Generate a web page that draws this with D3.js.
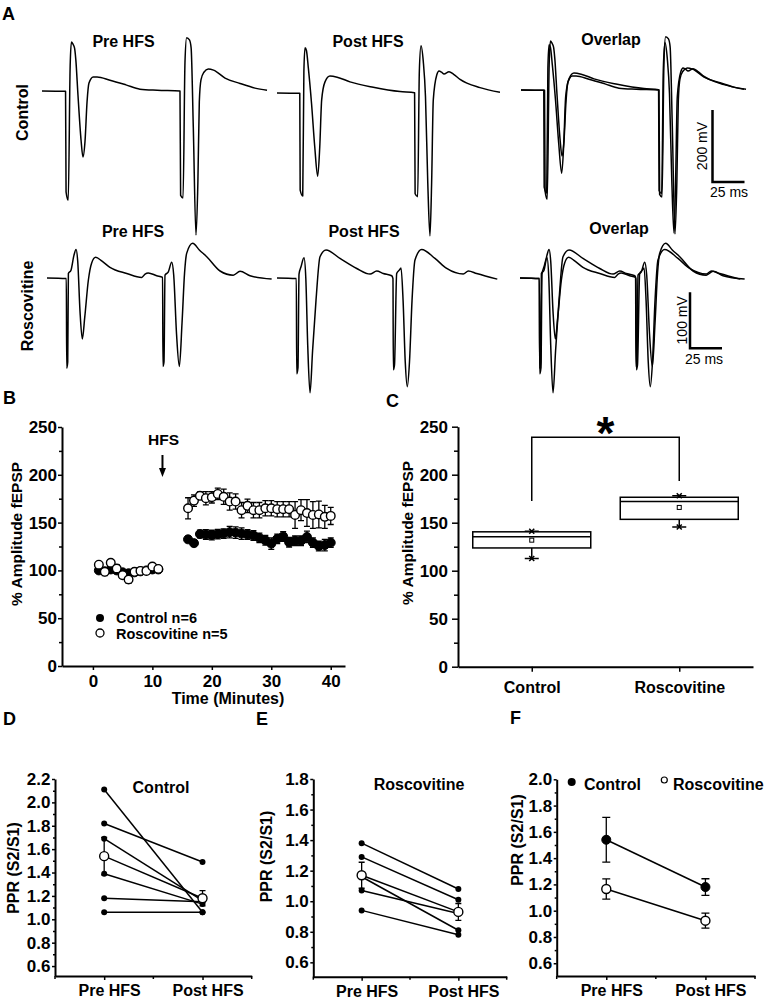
<!DOCTYPE html>
<html lang="en">
<head>
<meta charset="utf-8">
<title>Roscovitine and HFS</title>
<script src="https://cdn.jsdelivr.net/npm/d3@7"></script>
<style>
  body { margin: 0; background: #fff; }
  svg { display: block; }
  .trace { fill: none; stroke: #000; stroke-width: 1.5; stroke-linejoin: round; }
  .link { fill: none; stroke: #000; stroke-width: 1.5; }
  .err { fill: none; stroke: #000; stroke-width: 1.3; }
</style>
</head>
<body>
<script>

// ---- Panel A: field potential traces, [ms, mV] ----
var ctrlPreTrace = [[0,0],[18.4,-1],[18.8,-280],[20.5,-303],[22.0,70],[23.0,136],[24.2,130],[25.4,120],[26.4,88],[28.1,-11],[30.5,-136],[32.0,-183],[33.6,-140],[35.2,-30],[36.7,22],[40,39],[43.0,39],[53.1,30],[65.6,17],[76.5,5],[90,2],[107.8,0],[108.3,-290],[110.2,-297],[111.7,80],[113.0,148],[115.2,142],[116.5,120],[118.2,-100],[120.3,-400],[121.8,-250],[122.9,-30],[124.2,31],[126.5,52],[129.9,61],[134,58],[143,36],[154.7,21],[166.4,8],[175.8,2]];
var ctrlPostTrace = [[0,0],[17.8,-1],[18.1,-270],[20.1,-286],[21.0,60],[21.9,126],[23.0,118],[24.5,69],[27,-30],[29.5,-150],[31.8,-231],[33.4,-150],[34.9,-19],[37.5,31],[41.4,47],[47,44],[57,31],[75.2,16],[96.1,4],[107.5,1],[107.9,-280],[109.9,-288],[111.2,60],[112.5,131],[114.3,87],[116,-10],[117.8,-250],[119.5,-397],[120.8,-250],[122.1,-19],[124.8,50],[126.6,61],[128.5,58],[130.5,53],[134.4,59],[138,52],[143,38],[158.6,15],[174.2,2]];
var roscPreTrace = [[0,0],[15.1,-1],[15.4,-161],[16.2,-150],[16.7,8],[18.75,14],[21,40],[22.7,51],[24,30],[25.8,-60],[27.6,-109],[29.5,-70],[32.3,-4],[34.9,27],[38,37],[43,30],[49.2,19],[62.3,8],[74,1],[76.6,7],[79.1,9],[85.7,4],[90.3,1],[90.6,-158],[91.4,-150],[92.2,5],[94.8,11],[97.4,28],[99,5],[101.2,-100],[103.4,-158],[105.5,-80],[107.5,10],[109.1,44],[113.8,62],[119,50],[124.8,38],[135.2,12.5],[145.5,5],[150.8,12],[158.6,4],[175.5,-2]];
var roscPostTrace = [[0,0],[15.1,-1],[15.4,-171],[16.4,-160],[17.2,7],[18.75,20],[21.1,36],[22.5,0],[24,-120],[25.8,-205],[27.8,-130],[30.5,-39],[33.6,38],[38.3,50],[49.2,35],[62.3,17],[72.7,7],[77.9,12.5],[83,8],[89.6,4],[90.6,-1],[90.9,-164],[91.8,-155],[93.5,8],[95.5,14],[96.9,18],[98.5,-40],[100.2,-150],[101.8,-194],[103.5,-150],[105.5,-40],[107.8,32],[113,51],[123.4,35],[132.6,17],[145.5,7],[149.5,12.5],[156,8],[172.1,-2]];
var scaleBarMv = [200, 100];
var scaleBarMs = 25;

// ---- Panel B: time course ----
var preTimes = [1, 2, 3, 4, 5, 6, 7, 8, 9, 10, 11];
var postTimes = [16, 17, 18, 19, 20, 21, 22, 23, 24, 25, 26, 27, 28, 29, 30, 31, 32, 33, 34, 35, 36, 37, 38, 39, 40];
var ctrlPreAmp = [100, 99, 101, 100, 98, 97, 98, 99, 100, 101, 101];
var ctrlPreErr = [3, 3, 2, 3, 2, 3, 2, 2, 2, 2, 2];
var roscPreAmp = [106, 98.5, 108, 102, 95, 90.5, 98.5, 99.5, 99.5, 104, 101.5];
var roscPreErr = [3, 4, 3, 4, 3, 4, 3, 2, 2, 3, 2];
var ctrlPostAmp = [132.5, 128.5, 138, 137.5, 137, 138, 138.5, 140, 139.5, 138.5, 137.5, 136.5, 134, 131.5, 128, 133, 135.5, 129.5, 131, 131, 135, 129, 125.5, 126.5, 129];
var ctrlPostErr = [3, 3, 4, 5, 5, 5, 5, 6, 6, 6, 5, 5, 5, 5, 6, 5, 5, 5, 5, 5, 6, 5, 5, 6, 5];
var roscPostAmp = [165, 173, 178, 175.5, 176.5, 180, 177, 172, 172, 163, 167.5, 163, 163, 165, 165, 164, 164, 164, 158, 163, 160, 158, 158.5, 156, 157];
var roscPostErr = [11, 6, 4, 7, 6, 6, 8, 9, 8, 8, 7, 8, 8, 8, 8, 8, 8, 8, 14, 11, 14, 14, 14, 12, 9];
var hfsTime = 11.7;
var timeTicks = [0, 10, 20, 30, 40];
var ampTicks = [0, 50, 100, 150, 200, 250];
var ampMinorTicks = [25, 75, 125, 175, 225];

// ---- Panel C: box summary ----
var boxGroups = ["Control", "Roscovitine"];
var boxMin = [112.7, 145.6];
var boxQ1 = [123.7, 153.5];
var boxMedian = [135.3, 172];
var boxQ3 = [140.5, 176.5];
var boxMax = [141, 178];
var boxMean = [131.8, 165.9];
var sigLegs = [172.6, 193.5];
var sigTop = 239;

// ---- Panels D-F: paired pulse ratio ----
var phases = ["Pre HFS", "Post HFS"];
var dPre = [2.11, 1.82, 1.69, 1.39, 1.18, 1.06];
var dPost = [1.06, 1.49, 1.16, 1.13, 1.15, 1.06];
var dMean = [1.54, 1.18];
var dSem = [0.16, 0.065];
var ePre = [1.38, 1.29, 1.16, 1.07, 0.94];
var ePost = [1.08, 1.01, 0.81, 0.92, 0.78];
var eMean = [1.17, 0.93];
var eSem = [0.085, 0.055];
var fCtrlMean = [1.54, 1.18];
var fCtrlSem = [0.17, 0.063];
var fRoscMean = [1.165, 0.924];
var fRoscSem = [0.077, 0.057];
var pprTicksD = [0.6, 0.8, 1.0, 1.2, 1.4, 1.6, 1.8, 2.0, 2.2];
var pprMinorD = [0.7, 0.9, 1.1, 1.3, 1.5, 1.7, 1.9, 2.1];
var pprTicksE = [0.6, 0.8, 1.0, 1.2, 1.4, 1.6, 1.8];
var pprMinorE = [0.7, 0.9, 1.1, 1.3, 1.5, 1.7];
var pprTicksF = [0.6, 0.8, 1.0, 1.2, 1.4, 1.6, 1.8, 2.0];
var pprMinorF = [0.7, 0.9, 1.1, 1.3, 1.5, 1.7, 1.9];


var w = 765, h = 1004;
var font = '"Liberation Sans", Arial, Helvetica, sans-serif';

var svg = d3.select("body").append("svg")
  .attr("width", w)
  .attr("height", h)
  .attr("font-family", font);

svg.append("rect").attr("width", w).attr("height", h).attr("fill", "#fff");

// plain text helper
function text(g, str, x, y, size, opt) {
  opt = opt || {};
  var t = g.append("text")
    .text(str)
    .attr("font-size", size)
    .attr("font-weight", opt.normal ? "normal" : "bold")
    .attr("text-anchor", opt.anchor || "start")
    .attr("fill", "#000");
  if (opt.rotate) {
    t.attr("transform", "translate(" + x + "," + y + ") rotate(-90)").attr("dy", "0.35em");
  } else {
    t.attr("x", x).attr("y", y);
  }
  return t;
}

function styleAxis(g, size) {
  g.attr("font-family", font).attr("font-size", size).attr("font-weight", "bold");
  g.select(".domain").attr("stroke-width", 2);
  g.selectAll(".tick line").attr("stroke-width", 1.5);
  g.selectAll(".tick text").attr("fill", "#000");
}

// vertical error bars with caps
function errBars(g, xs, ys, xv, yv, ev, cap) {
  g.selectAll(null)
    .data(yv)
    .enter()
    .append("path")
    .attr("class", "err")
    .attr("d", function (d, i) {
      var x = xs(xv[i]), y1 = ys(d - ev[i]), y2 = ys(d + ev[i]);
      return "M" + x + "," + y1 + "V" + y2 +
        "M" + (x - cap) + "," + y1 + "H" + (x + cap) +
        "M" + (x - cap) + "," + y2 + "H" + (x + cap);
    });
}

function dots(g, xs, ys, xv, yv, r, open) {
  g.selectAll(null)
    .data(yv)
    .enter()
    .append("circle")
    .attr("cx", function (d, i) { return xs(xv[i]); })
    .attr("cy", function (d) { return ys(d); })
    .attr("r", r)
    .attr("fill", open ? "#fff" : "#000")
    .attr("stroke", "#000")
    .attr("stroke-width", open ? 1.4 : 1);
}

// ================= Panel A =================
text(svg, "A", 2, 19.5, 18);

var msPx = 1.28;
var traceRows = [
  { name: "Control", nameX: 22.5, nameY: 112.5, ky: 0.36, bar: scaleBarMv[0],
    barX: 712.5, barY: 182, mvX: 702, ms: [729, 197],
    panels: [
      { title: "Pre HFS", tx: 123.5, ty: 47, x0: 42, base: 91, traces: [ctrlPreTrace] },
      { title: "Post HFS", tx: 368, ty: 47, x0: 277, base: 93, traces: [ctrlPostTrace] },
      { title: "Overlap", tx: 611, ty: 45, x0: 521, base: 90, traces: [ctrlPreTrace, ctrlPostTrace] }
    ] },
  { name: "Roscovitine", nameX: 27, nameY: 306, ky: 0.56, bar: scaleBarMv[1],
    barX: 690, barY: 348.3, mvX: 682.5, ms: [704, 363.5],
    panels: [
      { title: "Pre HFS", tx: 133, ty: 237, x0: 47, base: 278, traces: [roscPreTrace] },
      { title: "Post HFS", tx: 364, ty: 237, x0: 277, base: 278, traces: [roscPostTrace] },
      { title: "Overlap", tx: 619, ty: 234, x0: 520, base: 278, traces: [roscPreTrace, roscPostTrace] }
    ] }
];

traceRows.forEach(function (row) {
  text(svg, row.name, row.nameX, row.nameY, 16, { rotate: true, anchor: "middle" });

  row.panels.forEach(function (p) {
    text(svg, p.title, p.tx, p.ty, 16, { anchor: "middle" });

    var xs = d3.scaleLinear().domain([0, 100]).range([p.x0, p.x0 + 100 * msPx]);
    var ys = d3.scaleLinear().domain([0, 100]).range([p.base, p.base - 100 * row.ky]);

    var line = d3.line()
      .x(function (d) { return xs(d[0]); })
      .y(function (d) { return ys(d[1]); })
      .curve(d3.curveMonotoneX);

    p.traces.forEach(function (tr) {
      svg.append("path").datum(tr).attr("class", "trace").attr("d", line);
    });
  });

  // scale bar
  var bx = d3.scaleLinear().domain([0, scaleBarMs]).range([row.barX, row.barX + scaleBarMs * msPx]);
  var by = d3.scaleLinear().domain([0, row.bar]).range([row.barY, row.barY - row.bar * row.ky]);
  svg.append("path")
    .attr("d", "M" + bx(0) + "," + by(row.bar) + "V" + by(0) + "H" + bx(scaleBarMs))
    .attr("fill", "none").attr("stroke", "#000").attr("stroke-width", 2.5);
  text(svg, row.bar + " mV", row.mvX, (by(0) + by(row.bar)) / 2, 14, { rotate: true, anchor: "middle", normal: true });
  text(svg, scaleBarMs + " ms", row.ms[0], row.ms[1], 14, { anchor: "middle", normal: true });
});

// ================= Panel B =================
text(svg, "B", 3, 404, 18);

var gB = svg.append("g");
var xB = d3.scaleLinear().domain([-5.2, 42.4]).range([62, 345]);
var yB = d3.scaleLinear().domain([0, 250]).range([666, 427]);

var bx1 = gB.append("g").attr("transform", "translate(0," + yB(0) + ")")
  .call(d3.axisBottom(xB).tickValues(timeTicks).tickSize(4).tickPadding(5).tickSizeOuter(0));
styleAxis(bx1, 17);

gB.append("g").attr("transform", "translate(" + xB.range()[0] + ",0)")
  .call(d3.axisLeft(yB).tickValues(ampMinorTicks).tickSize(3).tickFormat("").tickSizeOuter(0))
  .call(function (g) { g.select(".domain").remove(); g.selectAll("line").attr("stroke-width", 1.5); });
var by1 = gB.append("g").attr("transform", "translate(" + xB.range()[0] + ",0)")
  .call(d3.axisLeft(yB).tickValues(ampTicks).tickSize(4).tickPadding(1).tickSizeOuter(0));
styleAxis(by1, 17);

text(svg, "% Amplitude fEPSP", 16.5, 534, 15.5, { rotate: true, anchor: "middle" });
text(svg, "Time (Minutes)", 228, 704, 16, { anchor: "middle" });

// HFS marker
text(svg, "HFS", xB(hfsTime) + 1, 445, 15.5, { anchor: "middle" });
svg.append("path")
  .attr("d", "M" + xB(hfsTime) + ",455V469")
  .attr("stroke", "#000").attr("stroke-width", 2);
svg.append("path")
  .attr("d", "M" + (xB(hfsTime) - 3.5) + ",468L" + (xB(hfsTime) + 3.5) + ",468L" + xB(hfsTime) + ",477Z")
  .attr("fill", "#000");

// control first, roscovitine on top
errBars(gB, xB, yB, preTimes, ctrlPreAmp, ctrlPreErr, 3);
errBars(gB, xB, yB, postTimes, ctrlPostAmp, ctrlPostErr, 3);
dots(gB, xB, yB, preTimes, ctrlPreAmp, 4.5, false);
dots(gB, xB, yB, postTimes, ctrlPostAmp, 4.5, false);
errBars(gB, xB, yB, preTimes, roscPreAmp, roscPreErr, 3);
errBars(gB, xB, yB, postTimes, roscPostAmp, roscPostErr, 3);
dots(gB, xB, yB, preTimes, roscPreAmp, 4.3, true);
dots(gB, xB, yB, postTimes, roscPostAmp, 4.3, true);

// legend
gB.append("circle").attr("cx", 100).attr("cy", 618).attr("r", 4).attr("fill", "#000");
gB.append("circle").attr("cx", 100).attr("cy", 633).attr("r", 4).attr("fill", "#fff").attr("stroke", "#000").attr("stroke-width", 1.3);
text(gB, "Control n=6", 116, 623, 14.5);
text(gB, "Roscovitine n=5", 116, 638.5, 14.5);

// ================= Panel C =================
text(svg, "C", 386, 407, 18);

var gC = svg.append("g");
var xC = d3.scalePoint().domain(boxGroups).range([458, 753]).padding(0.5);
var yC = d3.scaleLinear().domain([0, 250]).range([666.7, 426.7]);

var cx1 = gC.append("g").attr("transform", "translate(0," + yC(0) + ")")
  .call(d3.axisBottom(xC).tickSize(5).tickPadding(10).tickSizeOuter(0));
styleAxis(cx1, 16);

gC.append("g").attr("transform", "translate(" + xC.range()[0] + ",0)")
  .call(d3.axisLeft(yC).tickValues(ampMinorTicks).tickSize(4).tickFormat("").tickSizeOuter(0))
  .call(function (g) { g.select(".domain").remove(); g.selectAll("line").attr("stroke-width", 1.5); });
var cy1 = gC.append("g").attr("transform", "translate(" + xC.range()[0] + ",0)")
  .call(d3.axisLeft(yC).tickValues(ampTicks).tickSize(6).tickPadding(4).tickSizeOuter(0));
styleAxis(cy1, 17);

text(svg, "% Amplitude fEPSP", 407.5, 533, 15.5, { rotate: true, anchor: "middle" });

var boxW = xC.step() * 0.8;
boxGroups.forEach(function (g, i) {
  var cx = xC(g);
  // whiskers
  gC.append("path")
    .attr("d", "M" + cx + "," + yC(boxQ1[i]) + "V" + yC(boxMin[i]) +
      "M" + (cx - 7) + "," + yC(boxMin[i]) + "H" + (cx + 7) +
      "M" + cx + "," + yC(boxQ3[i]) + "V" + yC(boxMax[i]) +
      "M" + (cx - 7) + "," + yC(boxMax[i]) + "H" + (cx + 7))
    .attr("stroke", "#000").attr("stroke-width", 1.5).attr("fill", "none");
  // box
  gC.append("rect")
    .attr("x", cx - boxW / 2)
    .attr("y", yC(boxQ3[i]))
    .attr("width", boxW)
    .attr("height", yC(boxQ1[i]) - yC(boxQ3[i]))
    .attr("fill", "#fff").attr("stroke", "#000").attr("stroke-width", 1.5);
  gC.append("line")
    .attr("x1", cx - boxW / 2).attr("x2", cx + boxW / 2)
    .attr("y1", yC(boxMedian[i])).attr("y2", yC(boxMedian[i]))
    .attr("stroke", "#000").attr("stroke-width", 1.5);
  // mean square
  gC.append("rect")
    .attr("x", cx - 2).attr("y", yC(boxMean[i]) - 2)
    .attr("width", 4).attr("height", 4)
    .attr("fill", "#fff").attr("stroke", "#000").attr("stroke-width", 1);
  // min / max crosses
  [boxMin[i], boxMax[i]].forEach(function (v) {
    var y = yC(v);
    gC.append("path")
      .attr("d", "M" + (cx - 2.5) + "," + (y - 2.5) + "L" + (cx + 2.5) + "," + (y + 2.5) +
        "M" + (cx - 2.5) + "," + (y + 2.5) + "L" + (cx + 2.5) + "," + (y - 2.5))
      .attr("stroke", "#000").attr("stroke-width", 1.5);
  });
});

// significance bracket
gC.append("path")
  .attr("d", "M" + xC(boxGroups[0]) + "," + yC(sigLegs[0]) + "V" + yC(sigTop) +
    "H" + xC(boxGroups[1]) + "V" + yC(sigLegs[1]))
  .attr("fill", "none").attr("stroke", "#000").attr("stroke-width", 1.5);
text(gC, "*", (xC(boxGroups[0]) + xC(boxGroups[1])) / 2, 449, 46, { anchor: "middle" });

// ================= Panels D-F =================
function pprAxes(g, xs, ys, ticks, minor) {
  var ax = g.append("g").attr("transform", "translate(0," + ys.range()[0] + ")")
    .call(d3.axisBottom(xs).tickSize(4).tickPadding(5).tickSizeOuter(0));
  styleAxis(ax, 16);
  ax.selectAll(".tick text").attr("dx", 5);
  // small ticks at ends and middle
  var r = xs.range();
  [r[0], (r[0] + r[1]) / 2, r[1]].forEach(function (x) {
    ax.append("line").attr("x1", x).attr("x2", x).attr("y1", 0).attr("y2", 3)
      .attr("stroke", "#000").attr("stroke-width", 1.5);
  });

  g.append("g").attr("transform", "translate(" + r[0] + ",0)")
    .call(d3.axisLeft(ys).tickValues(minor).tickSize(2).tickFormat("").tickSizeOuter(0))
    .call(function (a) { a.select(".domain").remove(); a.selectAll("line").attr("stroke-width", 1.5); });
  var ay = g.append("g").attr("transform", "translate(" + r[0] + ",0)")
    .call(d3.axisLeft(ys).tickValues(ticks).tickSize(3).tickPadding(1.5)
      .tickFormat(d3.format(".1f")).tickSizeOuter(0));
  styleAxis(ay, 17);
}

function pairedPanel(g, xs, ys, pre, post, mean, sem) {
  var px = xs(phases[0]), qx = xs(phases[1]);
  g.selectAll(null)
    .data(pre)
    .enter()
    .append("line")
    .attr("class", "link")
    .attr("x1", px).attr("x2", qx)
    .attr("y1", function (d) { return ys(d); })
    .attr("y2", function (d, i) { return ys(post[i]); });
  g.append("line").attr("class", "link")
    .attr("x1", px).attr("x2", qx).attr("y1", ys(mean[0])).attr("y2", ys(mean[1]));
  g.selectAll(null).data(pre).enter().append("circle")
    .attr("cx", px).attr("cy", function (d) { return ys(d); }).attr("r", 3).attr("fill", "#000");
  g.selectAll(null).data(post).enter().append("circle")
    .attr("cx", qx).attr("cy", function (d) { return ys(d); }).attr("r", 3).attr("fill", "#000");
  errBars(g, xs, ys, phases, mean, sem, 3);
  dots(g, xs, ys, phases, mean, 4.5, true);
}

// D
text(svg, "D", 3, 725, 18);
var gD = svg.append("g");
var xD = d3.scalePoint().domain(phases).range([55, 251.7]).padding(0.5);
var yD = d3.scaleLinear().domain([0.515, 2.2]).range([976, 779]);
pprAxes(gD, xD, yD, pprTicksD, pprMinorD);
pairedPanel(gD, xD, yD, dPre, dPost, dMean, dSem);
text(svg, "Control", 161, 792.5, 16, { anchor: "middle" });
text(svg, "PPR (S2/S1)", 13.5, 868, 16, { rotate: true, anchor: "middle" });

// E
text(svg, "E", 256, 725, 18);
var gE = svg.append("g");
var xE = d3.scalePoint().domain(phases).range([313.3, 506.7]).padding(0.5);
var yE = d3.scaleLinear().domain([0.506, 1.8]).range([976.7, 779]);
pprAxes(gE, xE, yE, pprTicksE, pprMinorE);
pairedPanel(gE, xE, yE, ePre, ePost, eMean, eSem);
text(svg, "Roscovitine", 419, 790, 16, { anchor: "middle" });
text(svg, "PPR (S2/S1)", 266, 856.5, 16, { rotate: true, anchor: "middle" });

// F
text(svg, "F", 510, 724, 18);
var gF = svg.append("g");
var xF = d3.scalePoint().domain(phases).range([556.7, 755]).padding(0.5);
var yF = d3.scaleLinear().domain([0.503, 2.0]).range([976, 779.3]);
pprAxes(gF, xF, yF, pprTicksF, pprMinorF);
text(svg, "PPR (S2/S1)", 517, 840, 16, { rotate: true, anchor: "middle" });

[[fCtrlMean, fCtrlSem, false], [fRoscMean, fRoscSem, true]].forEach(function (s) {
  gF.append("line").attr("class", "link")
    .attr("x1", xF(phases[0])).attr("x2", xF(phases[1]))
    .attr("y1", yF(s[0][0])).attr("y2", yF(s[0][1]));
  errBars(gF, xF, yF, phases, s[0], s[1], 4);
  dots(gF, xF, yF, phases, s[0], 4.5, s[2]);
});

gF.append("circle").attr("cx", 571.7).attr("cy", 782).attr("r", 4).attr("fill", "#000");
text(gF, "Control", 584, 789.5, 16);
gF.append("circle").attr("cx", 664.3).attr("cy", 780).attr("r", 3).attr("fill", "#fff").attr("stroke", "#000").attr("stroke-width", 1.2);
text(gF, "Roscovitine", 673, 789.5, 16);

</script>
</body>
</html>
